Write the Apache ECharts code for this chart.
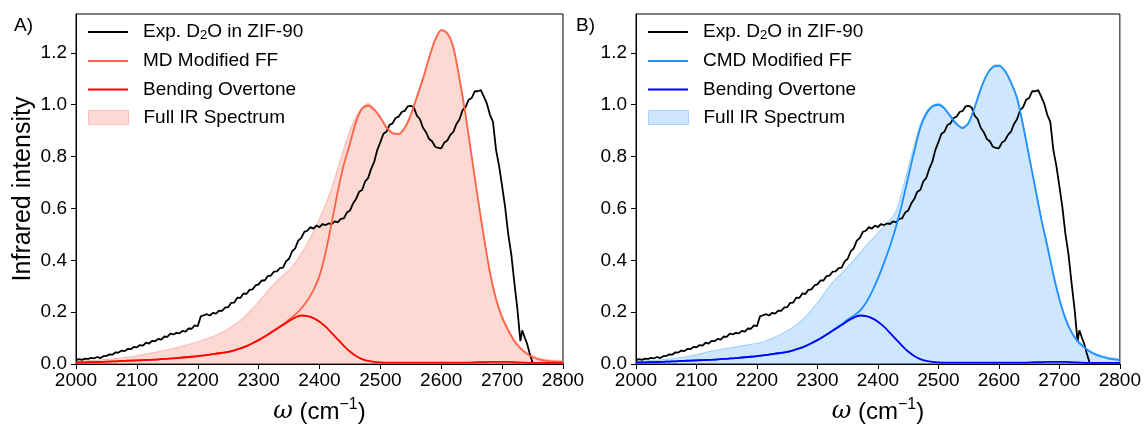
<!DOCTYPE html>
<html>
<head>
<meta charset="utf-8">
<script src="https://cdn.jsdelivr.net/npm/echarts@6/dist/echarts.min.js"></script>
<style>
html,body{margin:0;padding:0;background:#fff;}
#chart{width:1144px;height:429px;}
</style>
</head>
<body>
<div id="chart"></div>
<script>
// ---------- DATA ----------
const omegaExp = [
2000,2005,2010,2015,2020,2025,2030,2035,2040,2045,
2050,2055,2060,2065,2070,2075,2080,2085,2090,2095,
2100,2105,2110,2115,2120,2125,2130,2135,2140,2145,
2150,2155,2160,2165,2170,2175,2180,2185,2190,2195,
2200,2205,2210,2215,2220,2225,2230,2235,2240,2245,
2250,2255,2260,2265,2270,2275,2280,2285,2290,2295,
2300,2305,2310,2315,2320,2325,2330,2335,2340,2345,
2350,2355,2360,2365,2370,2375,2380,2385,2390,2395,
2400,2405,2410,2415,2420,2425,2430,2435,2440,2445,
2450,2455,2460,2465,2470,2475,2480,2485,2490,2495,
2500,2505,2510,2515,2520,2525,2530,2535,2540,2545,
2550,2555,2560,2565,2570,2575,2580,2585,2590,2595,
2600,2605,2610,2615,2620,2625,2630,2635,2640,2645,
2650,2655,2660,2665,2670,2675,2680,2685,2690,2695,
2700,2705,2710,2715,2720,2725,2730,2733,2737,2741,2745,2750];
const expIntensity = [
.015,.019,.016,.021,.020,.024,.022,.027,.023,.030,
.031,.037,.036,.045,.044,.052,.050,.058,.057,.066,
.064,.073,.071,.082,.079,.089,.088,.097,.094,.106,
.105,.117,.114,.120,.118,.128,.125,.137,.136,.149,
.146,.184,.188,.192,.187,.197,.194,.206,.205,.218,
.219,.236,.237,.256,.255,.272,.270,.286,.288,.303,
.307,.322,.322,.339,.341,.356,.357,.370,.372,.396,
.406,.434,.446,.476,.486,.510,.514,.528,.522,.534,
.528,.540,.536,.542,.540,.550,.546,.560,.562,.584,
.592,.619,.636,.664,.671,.704,.718,.754,.781,.826,
.856,.888,.896,.922,.928,.949,.954,.972,.976,.994,
.996,.989,.958,.944,.911,.894,.868,.859,.838,.834,
.832,.854,.862,.884,.896,.926,.944,.979,.991,1.019,
1.026,1.052,1.052,1.056,1.031,1.004,.961,.934,.826,.764,
.686,.604,.501,.424,.316,.214,.088,.130,.103,.078,.043,.005];

const omegaModel = [
2000,2010,2020,2030,2040,2050,2060,2070,2080,2090,
2100,2110,2120,2130,2140,2150,2160,2170,2180,2190,
2200,2210,2220,2230,2240,2250,2260,2270,2280,2290,
2300,2310,2320,2330,2340,2350,2360,2370,2380,2390,
2400,2410,2420,2430,2440,2450,2460,2470,2480,2490,
2500,2510,2520,2530,2540,2550,2560,2570,2580,2590,
2600,2610,2620,2630,2640,2650,2660,2670,2680,2690,
2700,2710,2720,2730,2740,2750,2760,2770,2780,2790,2800];

const bendOvertone = [
.006,.006,.007,.007,.008,.009,.010,.011,.012,.013,
.014,.015,.016,.017,.019,.020,.022,.024,.026,.028,
.030,.033,.036,.040,.043,.047,.053,.060,.069,.080,
.092,.106,.121,.136,.150,.166,.179,.187,.185,.177,
.163,.144,.120,.095,.070,.048,.031,.019,.012,.008,
.006,.005,.005,.005,.005,.005,.005,.005,.005,.005,
.005,.005,.005,.005,.005,.006,.007,.007,.008,.008,
.008,.008,.007,.006,.005,.004,.004,.004,.004,.004,.004];

const mdModified = [
.006,.006,.007,.007,.008,.009,.010,.011,.012,.013,
.014,.015,.016,.017,.019,.020,.022,.024,.026,.028,
.030,.033,.036,.040,.043,.047,.053,.060,.069,.080,
.092,.106,.121,.137,.153,.172,.190,.214,.245,.285,
.340,.430,.545,.665,.770,.850,.935,.985,.997,.980,
.950,.912,.890,.886,.910,.960,1.030,1.100,1.180,1.250,
1.288,1.275,1.220,1.100,.960,.800,.640,.490,.353,.250,
.180,.130,.089,.060,.040,.027,.018,.013,.010,.009,.008];

const fullIrA = [
.010,.011,.013,.014,.016,.018,.020,.022,.025,.028,
.032,.036,.041,.045,.050,.055,.060,.066,.072,.079,
.086,.094,.102,.111,.122,.135,.150,.168,.190,.214,
.240,.268,.295,.320,.342,.362,.390,.425,.465,.510,
.560,.615,.680,.755,.830,.900,.955,.990,1.005,.985,
.955,.917,.895,.891,.915,.965,1.035,1.105,1.185,1.255,
1.290,1.280,1.225,1.105,.965,.805,.645,.495,.358,.255,
.185,.135,.094,.065,.045,.032,.023,.018,.015,.014,.013];

const cmdModified = [
.006,.006,.007,.007,.008,.009,.010,.011,.012,.013,
.014,.015,.016,.017,.019,.020,.022,.024,.026,.028,
.030,.033,.036,.040,.043,.047,.053,.060,.069,.080,
.092,.106,.121,.137,.153,.172,.186,.205,.235,.278,
.330,.390,.455,.530,.620,.720,.820,.910,.965,.993,
1.000,.985,.955,.925,.910,.930,.990,1.060,1.115,1.145,
1.150,1.130,1.085,1.025,.920,.800,.680,.560,.455,.345,
.250,.175,.122,.088,.066,.048,.036,.028,.022,.018,.015];

const fullIrB = [
.010,.011,.013,.014,.016,.018,.021,.024,.027,.031,
.036,.042,.048,.052,.056,.060,.064,.068,.072,.076,
.080,.085,.094,.104,.116,.128,.143,.160,.182,.208,
.237,.268,.300,.328,.350,.375,.400,.428,.455,.480,
.505,.530,.555,.590,.670,.755,.845,.925,.975,.998,
1.005,.990,.960,.930,.915,.935,.995,1.065,1.120,1.150,
1.155,1.135,1.090,1.030,.925,.805,.685,.565,.460,.350,
.255,.180,.127,.093,.071,.053,.041,.033,.027,.023,.020];

const xTicks = [2000,2100,2200,2300,2400,2500,2600,2700,2800];
const yTicks = [0.0,0.2,0.4,0.6,0.8,1.0,1.2];

// ---------- CHART ----------
const FONT = "'Liberation Sans', Arial, Helvetica, sans-serif";
const pairs = (xs, ys) => xs.map((x, i) => [x, ys[i]]);

const colMD = '#FF6347', colBendA = '#FF0000';
const fillA = 'rgba(250,128,114,0.30)', edgeA = 'rgba(250,128,114,0.40)';
const colCMD = '#1E90FF', colBendB = '#0000FF';
const fillB = 'rgba(30,144,255,0.22)', edgeB = 'rgba(30,144,255,0.30)';

const gridW = 487, gridTop = 14, gridH = 356;
const gridLefts = [76, 636];

function makeX(idx) {
  return {
    type: 'value', gridIndex: idx, min: 2000, max: 2800, interval: 100,
    axisLine: {show: true, onZero: false, lineStyle: {color: '#000', width: 1}},
    axisTick: {show: true, length: 5, lineStyle: {color: '#000', width: 1}, customValues: xTicks},
    axisLabel: {color: '#000', fontSize: 19, fontFamily: FONT, margin: 7, customValues: xTicks,
      formatter: v => String(v)},
    splitLine: {show: false},
    name: '{it|ω} (cm{sup|−1})',
    nameLocation: 'middle', nameGap: 33,
    nameTextStyle: {color: '#000', fontSize: 24, fontFamily: FONT,
      rich: {
        it: {fontSize: 24, fontStyle: 'italic', fontFamily: "'DejaVu Serif', serif", color: '#000'},
        sup: {fontSize: 16, padding: [0, 0, 14, 0], fontFamily: FONT, color: '#000'}
      }}
  };
}
function makeY(idx) {
  const y = {
    type: 'value', gridIndex: idx, min: 0, max: 1.35,
    axisLine: {show: true, lineStyle: {color: '#000', width: 1}},
    axisTick: {show: true, length: 5, lineStyle: {color: '#000', width: 1}, customValues: yTicks},
    axisLabel: {color: '#000', fontSize: 19, fontFamily: FONT, margin: 9, customValues: yTicks,
      formatter: v => v.toFixed(1)},
    splitLine: {show: false}
  };
  if (idx === 0) {
    y.name = 'Infrared intensity';
    y.nameLocation = 'middle';
    y.nameGap = 40;
    y.nameTextStyle = {color: '#000', fontSize: 25, fontFamily: FONT};
  }
  return y;
}

function lineSeries(name, idx, xs, ys, color, width, z) {
  return {
    name, type: 'line', xAxisIndex: idx, yAxisIndex: idx,
    data: pairs(xs, ys), showSymbol: false, symbol: 'none', smooth: 0.25,
    color, lineStyle: {color, width}, z, silent: true, animation: false
  };
}
function fillSeries(name, idx, xs, ys, fill, edge) {
  return {
    name, type: 'line', xAxisIndex: idx, yAxisIndex: idx,
    data: pairs(xs, ys), showSymbol: false, symbol: 'none', smooth: 0.25,
    color: fill, lineStyle: {color: edge, width: 1.2},
    areaStyle: {color: fill, opacity: 1}, z: 1, silent: true, animation: false
  };
}

const labelText = {
  ExpA: 'Exp. D{sub|2}O in ZIF-90', ExpB: 'Exp. D{sub|2}O in ZIF-90',
  MD: 'MD Modified FF', BendA: 'Bending Overtone', FullA: 'Full IR Spectrum',
  CMD: 'CMD Modified FF', BendB: 'Bending Overtone', FullB: 'Full IR Spectrum'
};
const rowCenters = [32, 61, 89.5, 117.5];

function oneLegend(name, left, row, isFill, color, border) {
  const ih = isFill ? 14 : 2;
  const textH = 24;
  const top = rowCenters[row] - Math.max(ih / 2, textH / 2);
  return {
    show: true, orient: 'vertical', left, top, padding: 0,
    itemWidth: 40, itemHeight: ih, selectedMode: false,
    data: [{name, icon: 'rect',
      itemStyle: isFill ? {color, borderColor: border, borderWidth: 1} : {color, borderWidth: 0}}],
    formatter: n => labelText[n],
    textStyle: {color: '#000', fontSize: 19, fontFamily: FONT, lineHeight: textH, padding: [0, 0, 0, 10],
      rich: {sub: {fontSize: 13, padding: [7, 0, 0, 0], fontFamily: FONT, color: '#000'}}}
  };
}

const legL = 88, legR = 648;
const option = {
  backgroundColor: '#fff',
  animation: false,
  grid: gridLefts.map(l => ({left: l, top: gridTop, width: gridW, height: gridH,
    show: true, borderColor: '#000', borderWidth: 1, backgroundColor: 'transparent', containLabel: false})),
  xAxis: [makeX(0), makeX(1)],
  yAxis: [makeY(0), makeY(1)],
  legend: [
    oneLegend('ExpA', legL, 0, false, '#000'),
    oneLegend('MD', legL, 1, false, colMD),
    oneLegend('BendA', legL, 2, false, colBendA),
    oneLegend('FullA', legL, 3, true, fillA, edgeA),
    oneLegend('ExpB', legR, 0, false, '#000'),
    oneLegend('CMD', legR, 1, false, colCMD),
    oneLegend('BendB', legR, 2, false, colBendB),
    oneLegend('FullB', legR, 3, true, fillB, edgeB)
  ],
  graphic: [
    {type: 'text', left: 14, top: 16, style: {text: 'A)', fontSize: 19, fontFamily: FONT, fill: '#000'}},
    {type: 'text', left: 576, top: 16, style: {text: 'B)', fontSize: 19, fontFamily: FONT, fill: '#000'}}
  ],
  series: [
    fillSeries('FullA', 0, omegaModel, fullIrA, fillA, edgeA),
    Object.assign(lineSeries('ExpA', 0, omegaExp, expIntensity, '#000', 1.8, 3), {smooth: false}),
    lineSeries('MD', 0, omegaModel, mdModified, colMD, 1.8, 4),
    lineSeries('BendA', 0, omegaModel, bendOvertone, colBendA, 1.8, 5),
    fillSeries('FullB', 1, omegaModel, fullIrB, fillB, edgeB),
    Object.assign(lineSeries('ExpB', 1, omegaExp, expIntensity, '#000', 1.8, 3), {smooth: false}),
    lineSeries('CMD', 1, omegaModel, cmdModified, colCMD, 1.8, 4),
    lineSeries('BendB', 1, omegaModel, bendOvertone, colBendB, 1.8, 5)
  ]
};
const chart = echarts.init(document.getElementById('chart'), null, {renderer: 'canvas'});
chart.setOption(option);
</script>
</body>
</html>
